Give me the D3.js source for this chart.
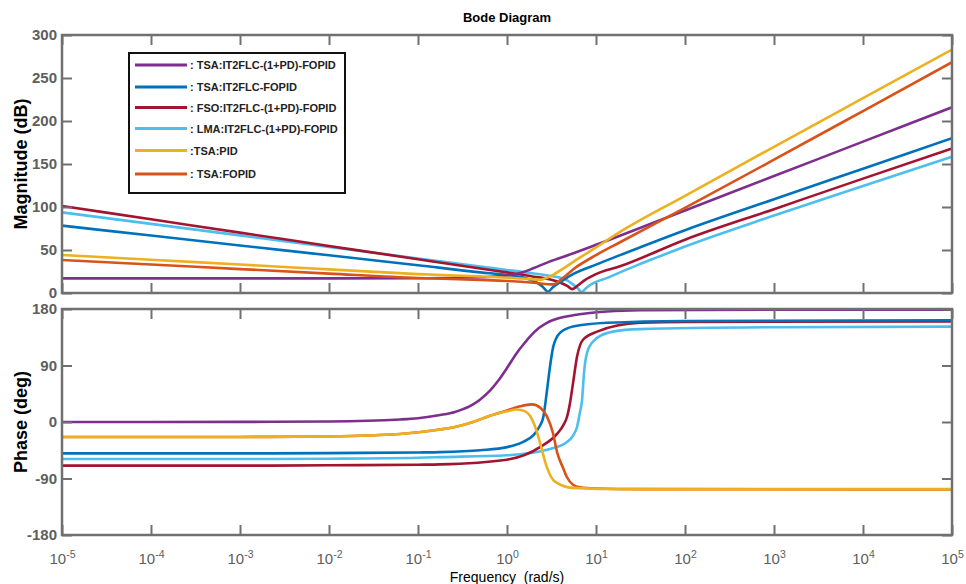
<!DOCTYPE html>
<html>
<head>
<meta charset="utf-8">
<script src="https://cdn.jsdelivr.net/npm/d3@7"></script>
<style>
  body { margin: 0; background: #fff; }
  svg { display: block; font-family: "Liberation Sans", Arial, sans-serif; }
</style>
</head>
<body>
<div id="vis"></div>
<script>
const FRAME_WIDTH = 966;
const FRAME_HEIGHT = 584;
const PLOT = {left: 62, right: 952, magTop: 35, magBottom: 293, phTop: 309, phBottom: 535};

// legend entries, in legend order
const seriesNames = [": TSA:IT2FLC-(1+PD)-FOPID", ": TSA:IT2FLC-FOPID", ": FSO:IT2FLC-(1+PD)-FOPID",
  ": LMA:IT2FLC-(1+PD)-FOPID", ":TSA:PID", ": TSA:FOPID"];
const seriesColors = ["#7E2F8E", "#0072BD", "#A2142F", "#4DBEEE", "#EDB120", "#D95319"];

const magTicks = [0, 50, 100, 150, 200, 250, 300];
const phaseTicks = [-180, -90, 0, 90, 180];
const freqTicks = [1e-5, 1e-4, 1e-3, 1e-2, 1e-1, 1, 10, 100, 1000, 1e4, 1e5];

// magnitude [rad/s, dB]
const magTsaIt2Pd = [[1e-5, 17], [1e-3, 17], [0.1, 17.2], [0.3, 17.8], [0.6, 18.6], [1, 20.5], [1.5, 24],
  [2, 29], [3, 36.5], [5, 44.5], [10, 56], [100, 96], [1000, 136], [1e4, 176], [1e5, 216]];
const magTsaIt2 = [[1e-5, 78.3], [1e-4, 66.8], [1e-3, 55.3], [1e-2, 43.8], [0.1, 32.3], [0.5, 24], [1, 21],
  [1.6, 17.5], [2.1, 13], [2.5, 7.5], [2.88, 1.5], [3.3, 7], [4, 13], [5.1, 20], [10, 33], [18.6, 44],
  [100, 73], [1000, 109], [1e4, 144.5], [1e5, 180]];
const magFsoIt2Pd = [[1e-5, 101.2], [1e-4, 85.7], [1e-3, 70.2], [1e-2, 54.7], [0.1, 39.2], [0.5, 28.5],
  [1, 24], [2, 19], [3, 16], [4, 12], [4.8, 8], [5.4, 4.5], [6.3, 9], [7.5, 15], [10, 22], [18.6, 31],
  [100, 62], [1000, 97.5], [1e4, 133], [1e5, 168]];
const magLmaIt2Pd = [[1e-5, 93.8], [1e-4, 80.4], [1e-3, 67], [1e-2, 53.6], [0.1, 40.2], [0.5, 30.7],
  [1, 26.8], [2, 22.7], [3, 20], [4.5, 16], [5.5, 10], [6.3, 5], [6.9, 1], [7.6, 5], [8.5, 9], [10, 13],
  [13, 17], [18.6, 24], [30, 33], [50, 42], [100, 54], [1000, 90], [1e4, 124.5], [1e5, 158.5]];
const magTsaPid = [[1e-5, 44.2], [1e-4, 38.6], [1e-3, 33.1], [1e-2, 27.5], [0.1, 22], [0.5, 19.3],
  [1, 17.8], [1.6, 16.6], [2.35, 15.5], [3, 19], [4, 26.5], [6, 38.5], [10, 53], [18.6, 71], [100, 113],
  [1000, 170], [1e4, 226.5], [1e5, 283]];
const magTsaFopid = [[1e-5, 38.4], [1e-4, 33.1], [1e-3, 27.8], [1e-2, 22.5], [0.1, 17.4], [0.5, 15.2],
  [1, 14], [2, 12], [3.3, 10], [4.2, 17], [5.8, 29], [10, 44], [18.6, 59], [100, 99], [1000, 155],
  [1e4, 211.6], [1e5, 268.3]];

// phase [rad/s, deg]
const phTsaIt2Pd = [[1e-5, 0], [1e-3, 0.2], [0.01, 0.8], [0.063, 4], [0.1, 6], [0.177, 11], [0.26, 16],
  [0.415, 28], [0.5, 36], [0.644, 50], [0.8, 66], [1, 86], [1.29, 110], [1.6, 127], [1.81, 136],
  [2.3, 150], [2.81, 158], [4, 166], [5.52, 170], [13.3, 176], [31.2, 178], [1000, 179], [1e5, 179]];
const phTsaIt2 = [[1e-5, -50], [1e-3, -50], [0.01, -49.5], [0.1, -48.5], [0.177, -48], [0.5, -45], [1, -40],
  [1.5, -32], [1.98, -21], [2.3, -8], [2.56, 8], [2.79, 46], [3.04, 88], [3.31, 120], [3.94, 142],
  [5.52, 152], [13.3, 158], [100, 161], [1e5, 162]];
const phFsoIt2Pd = [[1e-5, -69.5], [1e-3, -69.5], [0.01, -69], [0.1, -68], [0.177, -67.5], [1, -60],
  [2.35, -40], [3.65, -19], [4.3, -5], [4.72, 8], [5.1, 30], [5.52, 62], [6.12, 104], [7.14, 131],
  [10.3, 144], [31.2, 158], [100, 159.5], [1e5, 160]];
const phLmaIt2Pd = [[1e-5, -59], [1e-3, -59], [0.01, -58.5], [0.1, -57], [0.177, -56], [1, -53],
  [3.04, -43], [4.72, -32], [5.5, -22], [6.12, -8], [6.6, 15], [6.97, 35], [7.33, 78], [8.13, 115],
  [10.3, 134], [15.5, 144], [31.2, 148], [1000, 151], [1e5, 152]];
const phTsaPid = [[1e-5, -24], [1e-3, -23.8], [0.01, -23], [0.033, -21], [0.063, -19], [0.177, -12],
  [0.26, -8], [0.415, 0], [0.644, 10], [1, 17], [1.29, 20], [1.6, 17], [1.81, 10], [2.1, -10],
  [2.35, -33], [2.79, -71], [3.46, -95], [5.52, -105], [20, -107], [1e5, -107]];
const phTsaFopid = [[1e-5, -24], [1e-3, -23.8], [0.01, -23], [0.033, -21], [0.063, -19], [0.177, -12],
  [0.26, -8], [0.415, 0], [0.644, 10], [1, 18.5], [1.4, 25], [1.9, 28], [2.4, 22], [2.81, 9],
  [3.29, -18], [3.65, -48], [4.26, -73], [4.72, -88], [5.52, -100], [6.61, -104], [10, -106],
  [30, -107], [1e5, -107.5]];

const magSeries = [magTsaIt2Pd, magTsaIt2, magFsoIt2Pd, magLmaIt2Pd, magTsaPid, magTsaFopid];
const phaseSeries = [phTsaIt2Pd, phTsaIt2, phFsoIt2Pd, phLmaIt2Pd, phTsaPid, phTsaFopid];
// draw order: back to front
const drawOrder = [3, 2, 1, 0, 5, 4];

const AXIS_COLOR = "#707070";

const FRAME = d3.select("#vis")
  .append("svg")
    .attr("width", FRAME_WIDTH)
    .attr("height", FRAME_HEIGHT);

const xScale = d3.scaleLog().domain([1e-5, 1e5]).range([PLOT.left, PLOT.right]);
const yMag = d3.scaleLinear().domain([0, 300]).range([PLOT.magBottom, PLOT.magTop]);
const yPhase = d3.scaleLinear().domain([-180, 180]).range([PLOT.phBottom, PLOT.phTop]);

const minorTicks = xScale.ticks().filter(d => !freqTicks.some(f => Math.abs(f - d) / f < 1e-6));

function styleAxis(g) {
  g.select(".domain").remove();
  g.selectAll(".tick line").attr("stroke", AXIS_COLOR).attr("stroke-width", 2);
  g.selectAll(".tick text").attr("fill", "#5e5e5e").attr("font-size", "15px");
}

function drawPanel(top, bottom, yScale, yTicks, series, id, showX) {
  FRAME.append("clipPath").attr("id", id)
    .append("rect")
      .attr("x", PLOT.left).attr("y", top)
      .attr("width", PLOT.right - PLOT.left).attr("height", bottom - top);

  const line = d3.line()
    .x(d => xScale(d[0]))
    .y(d => yScale(d[1]))
    .curve(d3.curveMonotoneX);

  const curves = FRAME.append("g").attr("clip-path", "url(#" + id + ")");
  drawOrder.forEach(i => {
    curves.append("path")
      .datum(series[i])
      .attr("fill", "none")
      .attr("stroke", seriesColors[i])
      .attr("stroke-width", 2.6)
      .attr("d", line);
  });

  // x ticks, bottom and top, pointing inward
  const bottomAxis = FRAME.append("g")
    .attr("transform", "translate(0," + bottom + ")")
    .call(d3.axisBottom(xScale).tickValues(freqTicks).tickSize(-10).tickSizeOuter(0).tickPadding(18)
      .tickFormat(d => showX ? "10" : ""))
    .call(styleAxis);
  if (showX) {
    bottomAxis.selectAll(".tick text").each(function (d) {
      const t = d3.select(this);
      t.text(null);
      t.append("tspan").text("10");
      t.append("tspan").attr("dy", "-0.55em").attr("font-size", "10.5px").text(Math.round(Math.log10(d)));
    });
  }
  FRAME.append("g")
    .attr("transform", "translate(0," + bottom + ")")
    .call(d3.axisBottom(xScale).tickValues(minorTicks).tickSize(-5).tickSizeOuter(0).tickFormat(""))
    .call(styleAxis);
  FRAME.append("g")
    .attr("transform", "translate(0," + top + ")")
    .call(d3.axisTop(xScale).tickValues(freqTicks).tickSize(-10).tickSizeOuter(0).tickFormat(""))
    .call(styleAxis);
  FRAME.append("g")
    .attr("transform", "translate(0," + top + ")")
    .call(d3.axisTop(xScale).tickValues(minorTicks).tickSize(-5).tickSizeOuter(0).tickFormat(""))
    .call(styleAxis);

  // y ticks, left with labels and right without
  FRAME.append("g")
    .attr("transform", "translate(" + PLOT.left + ",0)")
    .call(d3.axisLeft(yScale).tickValues(yTicks).tickSize(-10).tickSizeOuter(0).tickPadding(5)
      .tickFormat(d => String(d)))
    .call(styleAxis)
    .call(g => g.selectAll(".tick text").attr("font-weight", "bold"));
  FRAME.append("g")
    .attr("transform", "translate(" + PLOT.right + ",0)")
    .call(d3.axisRight(yScale).tickValues(yTicks).tickSize(-10).tickSizeOuter(0).tickFormat(""))
    .call(styleAxis);

  FRAME.append("rect")
    .attr("x", PLOT.left).attr("y", top)
    .attr("width", PLOT.right - PLOT.left).attr("height", bottom - top)
    .attr("fill", "none")
    .attr("stroke", AXIS_COLOR)
    .attr("stroke-width", 2.5);
}

drawPanel(PLOT.magTop, PLOT.magBottom, yMag, magTicks, magSeries, "clipMag", false);
drawPanel(PLOT.phTop, PLOT.phBottom, yPhase, phaseTicks, phaseSeries, "clipPhase", true);

// titles
FRAME.append("text")
  .attr("x", 507).attr("y", 22)
  .attr("text-anchor", "middle")
  .attr("font-size", "13px").attr("font-weight", "bold")
  .text("Bode Diagram");

FRAME.append("text")
  .attr("x", 507).attr("y", 582)
  .attr("text-anchor", "middle")
  .attr("font-size", "14px")
  .style("white-space", "pre")
  .text("Frequency  (rad/s)");

FRAME.append("text")
  .attr("transform", "translate(27," + (PLOT.magTop + PLOT.magBottom) / 2 + ") rotate(-90)")
  .attr("text-anchor", "middle")
  .attr("font-size", "18px").attr("font-weight", "bold")
  .text("Magnitude (dB)");

FRAME.append("text")
  .attr("transform", "translate(27," + (PLOT.phTop + PLOT.phBottom) / 2 + ") rotate(-90)")
  .attr("text-anchor", "middle")
  .attr("font-size", "18px").attr("font-weight", "bold")
  .text("Phase (deg)");

// legend
const legend = FRAME.append("g");
legend.append("rect")
  .attr("x", 129).attr("y", 53)
  .attr("width", 216).attr("height", 140)
  .attr("fill", "#fff")
  .attr("stroke", "#111")
  .attr("stroke-width", 2);

const legendY = [65, 87, 107.5, 128.5, 150.5, 174];
seriesNames.forEach((name, i) => {
  legend.append("line")
    .attr("x1", 135).attr("x2", 187)
    .attr("y1", legendY[i]).attr("y2", legendY[i])
    .attr("stroke", seriesColors[i])
    .attr("stroke-width", 3);
  legend.append("text")
    .attr("x", 190).attr("y", legendY[i] + 4)
    .attr("font-family", "'Liberation Sans Narrow', 'Arial Narrow', 'Liberation Sans', sans-serif")
    .attr("font-size", "11px").attr("font-weight", "bold")
    .attr("fill", "#222")
    .text(name);
});
</script>
</body>
</html>
